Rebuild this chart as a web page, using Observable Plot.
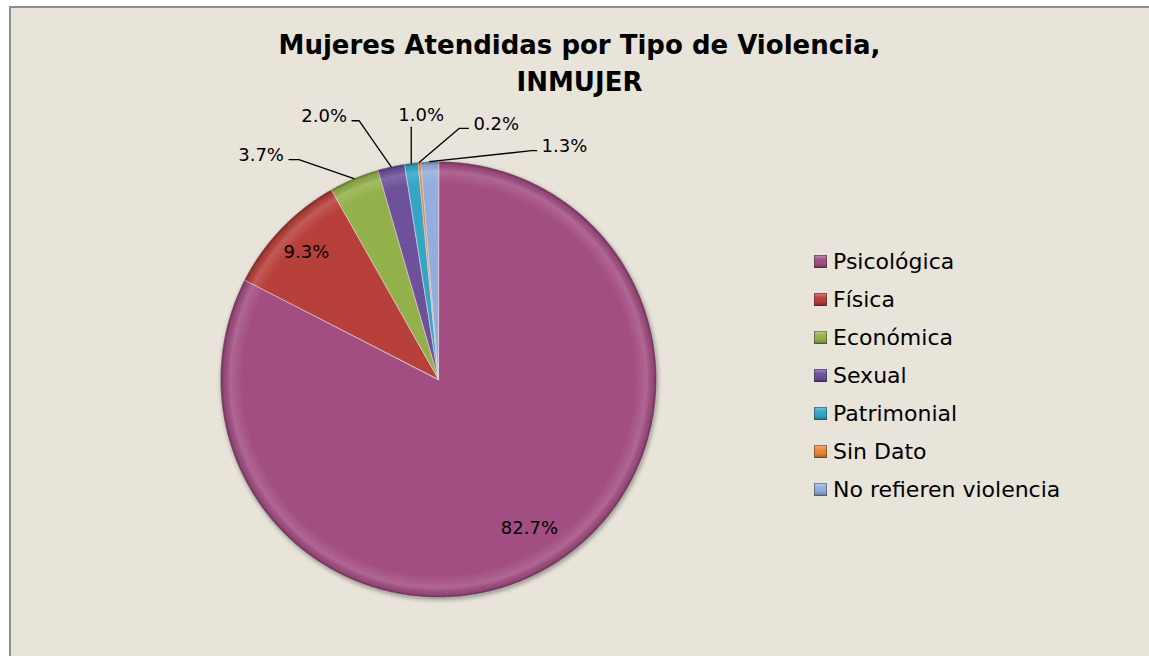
<!DOCTYPE html>
<html><head><meta charset="utf-8">
<script src="https://cdn.jsdelivr.net/npm/d3@7"></script>
<script src="https://cdn.jsdelivr.net/npm/@observablehq/plot@0.6"></script>
<style>
html,body{margin:0;background:#fff;overflow:hidden;}
#wrap{position:relative;width:1149px;height:656px;overflow:hidden;font-family:"DejaVu Sans",Verdana,sans-serif;}
#area{position:absolute;left:9px;top:6px;width:1160px;height:670px;background:#E8E4D9;border-left:2px solid #8d8d8d;border-top:2px solid #8d8d8d;box-sizing:border-box;}
#title{position:absolute;left:10px;width:1139px;top:27px;margin:0;text-align:center;font-weight:bold;font-size:26px;line-height:37px;color:#000;}
#chart{position:absolute;left:0;top:0;}
#legend{position:absolute;left:814px;top:242px;}
.row{display:flex;align-items:center;height:38px;font-size:22px;color:#000;white-space:nowrap;}
.sw{width:13px;height:13px;margin-right:6px;box-sizing:border-box;}
</style></head>
<body>
<div id="wrap">
  <div id="area"></div>
  <h1 id="title">Mujeres Atendidas por Tipo de Violencia,<br>INMUJER</h1>
  <div id="chart"></div>
  <div id="legend"></div>
</div>
<script>
// ---- data ----
const categories = ["Psicológica", "Física", "Económica", "Sexual", "Patrimonial", "Sin Dato", "No refieren violencia"];
const percentages = [82.7, 9.3, 3.7, 2.0, 1.0, 0.2, 1.3];
const colors = ["#A34E82", "#B7403B", "#93B14A", "#6E519B", "#33A6C5", "#E8873A", "#93AEDD"];
const labelText = percentages.map(v => v.toFixed(1) + "%");

// ---- layout (px) ----
const W = 1149, H = 656, CX = 438, CY = 379, R = 218;
const insideLayout = [
  {cat: "Psicológica", k: 0.80},
  {cat: "Física", k: 0.84}
];
const leaderLayout = [
  {cat: "Económica", elbow: [-55, -19], tail: -10},
  {cat: "Sexual", elbow: [-32, -46], tail: -7},
  {cat: "Patrimonial", elbow: [0, -36], tail: 0},
  {cat: "Sin Dato", elbow: [40, -34], tail: 9},
  {cat: "No refieren violencia", elbow: [102, -11], tail: 5}
];

// ---- geometry from data ----
const arcs = d3.pie().sort(null).value(d => d)(percentages);
const slices = [];
arcs.forEach((a, i) => {
  const cat = categories[i];
  slices.push({cat, x: 0, y: 0});
  const n = Math.max(2, Math.ceil((a.endAngle - a.startAngle) / (Math.PI / 720)));
  for (let k = 0; k <= n; k++) {
    const t = a.startAngle + (a.endAngle - a.startAngle) * k / n;
    slices.push({cat, x: Math.sin(t), y: Math.cos(t)});
  }
});
const mid = cat => { const a = arcs[categories.indexOf(cat)]; return (a.startAngle + a.endAngle) / 2; };

const labels = [];
insideLayout.forEach(L => {
  const m = mid(L.cat);
  labels.push({x: L.k * Math.sin(m), y: L.k * Math.cos(m), text: labelText[categories.indexOf(L.cat)], anchor: "middle"});
});
const leaders = [];
leaderLayout.forEach(L => {
  const m = mid(L.cat);
  const ex = Math.sin(m), ey = Math.cos(m);
  const bx = ex + L.elbow[0] / R, by = ey - L.elbow[1] / R;
  const tx = bx + L.tail / R, ty = by;
  leaders.push({cat: L.cat, x: ex, y: ey}, {cat: L.cat, x: bx, y: by}, {cat: L.cat, x: tx, y: ty});
  const text = labelText[categories.indexOf(L.cat)];
  if (L.tail < 0) labels.push({x: tx - 5 / R, y: ty + 4 / R, text, anchor: "end"});
  else if (L.tail > 0) labels.push({x: tx + 5 / R, y: ty + 4 / R, text, anchor: "start"});
  else labels.push({x: tx + 10 / R, y: ty + 12 / R, text, anchor: "middle"});
});

const textOpts = {x: "x", y: "y", text: "text", fontSize: 18, fontFamily: "DejaVu Sans", fill: "#000"};
const chart = Plot.plot({
  width: W, height: H, margin: 0,
  style: {background: "transparent", overflow: "visible"},
  x: {domain: [-CX / R, (W - CX) / R], axis: null},
  y: {domain: [-(H - CY) / R, CY / R], axis: null},
  color: {domain: categories, range: colors},
  marks: [
    Plot.line(slices, {x: "x", y: "y", z: "cat", fill: "cat", stroke: "#e2d6dc", strokeWidth: 1, strokeOpacity: 0.7, curve: "linear-closed"}),
    Plot.line(slices, {x: "x", y: "y", z: "cat", fill: "url(#bevel)", stroke: "none", curve: "linear-closed"}),
    Plot.line(leaders, {x: "x", y: "y", z: "cat", stroke: "#000", strokeWidth: 1.3}),
    Plot.text(labels.filter(d => d.anchor === "end"), {...textOpts, textAnchor: "end"}),
    Plot.text(labels.filter(d => d.anchor === "start"), {...textOpts, textAnchor: "start"}),
    Plot.text(labels.filter(d => d.anchor === "middle"), {...textOpts, textAnchor: "middle"})
  ]
});

// bevel gradient + shadow
const svg = d3.select(chart);
const cxp = chart.scale("x").apply(0), cyp = chart.scale("y").apply(0);
const rp = chart.scale("x").apply(1) - cxp;
const defs = svg.insert("defs", ":first-child");
const grad = defs.append("radialGradient").attr("id", "bevel").attr("gradientUnits", "userSpaceOnUse")
  .attr("cx", cxp).attr("cy", cyp).attr("r", rp).attr("fx", cxp).attr("fy", cyp);
[[0, "#fff", 0], [0.9, "#fff", 0], [0.955, "#fff", 0.14], [0.985, "#000", 0.08], [1, "#000", 0.38]]
  .forEach(([o, c, op]) => grad.append("stop").attr("offset", o).attr("stop-color", c).attr("stop-opacity", op));
svg.select("g[aria-label='line']").style("filter", "drop-shadow(1.5px 2px 2px rgba(0,0,0,0.35))");

document.getElementById("chart").appendChild(chart);

// legend
const legend = d3.select("#legend");
categories.forEach((c, i) => {
  const row = legend.append("div").attr("class", "row");
  row.append("div").attr("class", "sw")
    .style("background", colors[i])
    .style("box-shadow", "inset 0 0 0 1px rgba(0,0,0,0.3), inset 0 -3px 3px rgba(0,0,0,0.25), inset 0 3px 3px rgba(255,255,255,0.3)");
  row.append("span").text(c);
});
</script>
</body></html>
